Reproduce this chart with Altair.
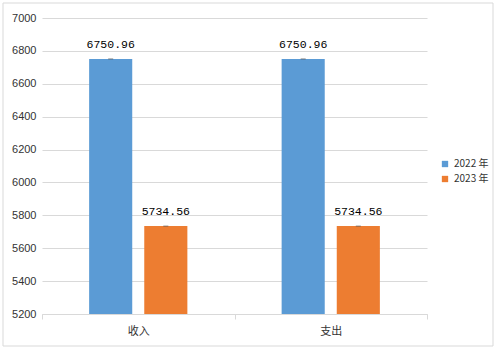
import altair as alt
import pandas as pd

categories = ["收入", "收入", "支出", "支出"]
years = ["2022 年", "2023 年", "2022 年", "2023 年"]
values = [6750.96, 5734.56, 6750.96, 5734.56]
labels = ["6750.96", "5734.56", "6750.96", "5734.56"]
y_ticks = [5200, 5400, 5600, 5800, 6000, 6200, 6400, 6600, 6800, 7000]

df = pd.DataFrame({"cat": categories, "year": years, "value": values, "label": labels})
df["base"] = 5200

x = alt.X("cat:N", sort=["收入", "支出"], title=None,
          scale=alt.Scale(paddingInner=0, paddingOuter=0),
          axis=alt.Axis(labelAngle=0, tickBand="extent", tickSize=5, domainColor="#d9d9d9",
                        tickColor="#d9d9d9", labelFont="Noto Sans CJK SC", labelFontSize=11,
                        labelColor="#333333", labelPadding=6, grid=False))
xo = alt.XOffset("year:N", scale=alt.Scale(paddingInner=0.218, paddingOuter=0.855))
y = alt.Y("value:Q", title=None,
          scale=alt.Scale(domain=[5200, 7000], nice=False, zero=False),
          axis=alt.Axis(values=y_ticks, format="d", domain=False, ticks=False, gridColor="#d9d9d9",
                        labelFont="Liberation Sans", labelFontSize=11, labelColor="#333333",
                        labelPadding=6))

color = alt.Color("year:N", title=None,
                  scale=alt.Scale(domain=["2022 年", "2023 年"], range=["#5b9bd5", "#ed7d31"]),
                  legend=alt.Legend(orient="none", legendX=398, legendY=141, symbolType="square",
                                    symbolSize=40, labelFont="Noto Sans CJK SC", labelFontSize=10,
                                    labelColor="#333333", rowPadding=5, symbolStrokeWidth=0))

base = alt.Chart(df)

border = base.mark_rect(fill=None, stroke="#d9d9d9", strokeWidth=1).encode(
    x=alt.value(-39), x2=alt.value(451), y=alt.value(-15), y2=alt.value(328)
).transform_filter("datum.cat == '收入' && datum.year == '2022 年'")

bars = base.mark_bar().encode(x=x, xOffset=xo, y=y, y2="base:Q", color=color)

ticks = base.mark_tick(orient="horizontal", size=5, thickness=1, color="#555555").encode(
    x=x, xOffset=xo, y=y)

text = base.mark_text(dy=-9, baseline="bottom", font="Liberation Mono", fontSize=11.5,
                      color="#000000").encode(x=x, xOffset=xo, y=y, text="label:N")

chart = alt.layer(border, bars, ticks, text).properties(
    width=385, height=296,
    autosize=alt.AutoSizeParams(type="none"),
    padding={"left": 42, "top": 18, "right": 72, "bottom": 41},
    background="white",
).configure_view(stroke=None)

chart.save("out.html", embed_options={"renderer": "svg", "actions": False})
